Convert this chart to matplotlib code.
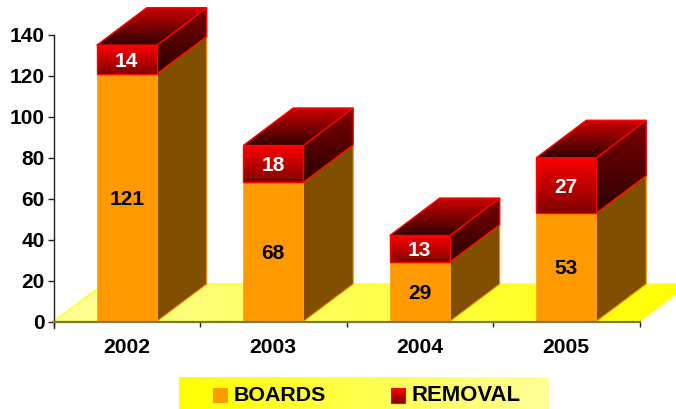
import numpy as np
import matplotlib
matplotlib.use("Agg")
import matplotlib.pyplot as plt
from matplotlib.colors import LinearSegmentedColormap
from matplotlib.patches import Polygon, Rectangle

years = ["2002", "2003", "2004", "2005"]
boards = [121, 68, 29, 53]
removal = [14, 18, 13, 27]
series_names = ["BOARDS", "REMOVAL"]
y_ticks = [0, 20, 40, 60, 80, 100, 120, 140]

W, H = 676, 409
plt.rcParams["font.family"] = ["Liberation Sans", "DejaVu Sans"]
plt.rcParams["font.weight"] = "bold"

fig = plt.figure(figsize=(W / 100, H / 100), dpi=100, facecolor="white")
L, R, B, T = 53.5, 639.5, 321.5, 35.0
ax = fig.add_axes([L / W, 1 - B / H, (R - L) / W, (B - T) / H], facecolor="none")
ax.set_xlim(0, 4)
ax.set_ylim(0, 140)

DX = 50 / ((R - L) / 4)
DY = 37.5 / ((B - T) / 140)
BW = 60 / ((R - L) / 4)


def grad(points, c_start, c_end, horizontal=False, z=2, edge=None, lw=1.0):
    """Polygon with a linear fill; c_start is at the top (or left) of its box."""
    pts = np.array(points, dtype=float)
    cmap = LinearSegmentedColormap.from_list("g", [c_start, c_end])
    g = np.linspace(0, 1, 256)
    g = g[None, :] if horizontal else g[:, None]
    im = ax.imshow(g, cmap=cmap, vmin=0, vmax=1, aspect="auto", origin="upper",
                   extent=(pts[:, 0].min(), pts[:, 0].max(), pts[:, 1].min(), pts[:, 1].max()),
                   zorder=z, interpolation="bilinear")
    poly = Polygon(pts, closed=True, facecolor="none", edgecolor=edge or "none",
                   linewidth=lw, zorder=z + 0.01, clip_on=False, joinstyle="miter")
    ax.add_patch(poly)
    im.set_clip_path(poly)
    im.set_clip_box(fig.bbox)
    return poly


def value_label(x, y, value, color):
    ax.annotate(str(value), (x, y), xytext=(0, -1.2), textcoords="offset points",
                ha="center", va="center", fontsize=15, color=color, zorder=20)


# floor
grad([(0, 0), (DX, DY), (4 + DX, DY), (4, 0)], "#FFFF99", "#FFFF00", horizontal=True,
     z=1, edge="#FFFF20", lw=1.0)

# bars
for i, (a, b) in enumerate(zip(boards, removal)):
    x0 = i + 0.5 - BW / 2
    x1 = x0 + BW
    s = a + b
    z = 3 + i
    ax.add_patch(Polygon([(x1, 0), (x1 + DX, DY), (x1 + DX, a + DY), (x1, a)],
                         facecolor="#804F00", edgecolor="#FF9900", linewidth=0.8,
                         zorder=z, clip_on=False))
    ax.add_patch(Rectangle((x0, 0), BW, a, facecolor="#FF9900", edgecolor="#FFA820",
                           linewidth=0.6, zorder=z + 0.1, clip_on=False))
    grad([(x1, a), (x1 + DX, a + DY), (x1 + DX, s + DY), (x1, s)], "#800000", "#280000",
         z=z + 0.2, edge="#FF0000")
    grad([(x0, s), (x0 + DX, s + DY), (x1 + DX, s + DY), (x1, s)], "#CC0000", "#300000",
         z=z + 0.3, edge="#FF0000")
    grad([(x0, a), (x0, s), (x1, s), (x1, a)], "#FF0000", "#800000",
         z=z + 0.4, edge="#FF0000")
    value_label(i + 0.5, a / 2, a, "black")
    value_label(i + 0.5, a + b / 2, b, "white")

ax.set_xlim(0, 4)
ax.set_ylim(0, 140)

# axes
for s in ("top", "right"):
    ax.spines[s].set_visible(False)
ax.spines["left"].set_color("#222222")
ax.spines["left"].set_linewidth(1.0)
ax.spines["left"].set_bounds(-3, 140)
ax.spines["bottom"].set_color("#7A7A30")
ax.spines["bottom"].set_linewidth(1.6)
ax.spines["bottom"].set_zorder(15)
ax.set_yticks(y_ticks)
ax.tick_params(axis="y", length=4, width=1, color="#222222", pad=2.5, labelsize=15)
ax.set_xticks(range(5))
ax.set_xticklabels([])
ax.tick_params(axis="x", length=3.5, width=1, color="#222222")
ax.set_xticks([i + 0.5 for i in range(4)], minor=True)
ax.set_xticklabels(years, minor=True, fontsize=15.2)
ax.tick_params(axis="x", which="minor", length=0, pad=12)

# legend
lax = fig.add_axes([0, 0, 1, 1], facecolor="none")
lax.set_xlim(0, W)
lax.set_ylim(H, 0)
lax.axis("off")
lax.imshow(np.linspace(0, 1, 256)[None, :],
           cmap=LinearSegmentedColormap.from_list("l", ["#FFFF00", "#FFFF99"]),
           extent=(179, 549, 409, 377), aspect="auto", zorder=1)
lax.add_patch(Rectangle((213, 388), 15, 15, facecolor="#FF9900", edgecolor="none", zorder=2))
lax.imshow(np.linspace(0, 1, 64)[:, None],
           cmap=LinearSegmentedColormap.from_list("s", ["#FF0000", "#800000"]),
           extent=(390.5, 405, 403, 388.5), aspect="auto", zorder=2)
lax.add_patch(Rectangle((390.5, 388.5), 14.5, 14.5, facecolor="none", edgecolor="#FF0000",
                        linewidth=0.8, zorder=3))
lax.set_xlim(0, W)
lax.set_ylim(H, 0)
lax.text(234, 395.5, series_names[0], ha="left", va="center", fontsize=15.4, zorder=4)
lax.text(411.5, 395.5, series_names[1], ha="left", va="center", fontsize=15.9, zorder=4)

fig.savefig("out.png", dpi=100, facecolor="white")
